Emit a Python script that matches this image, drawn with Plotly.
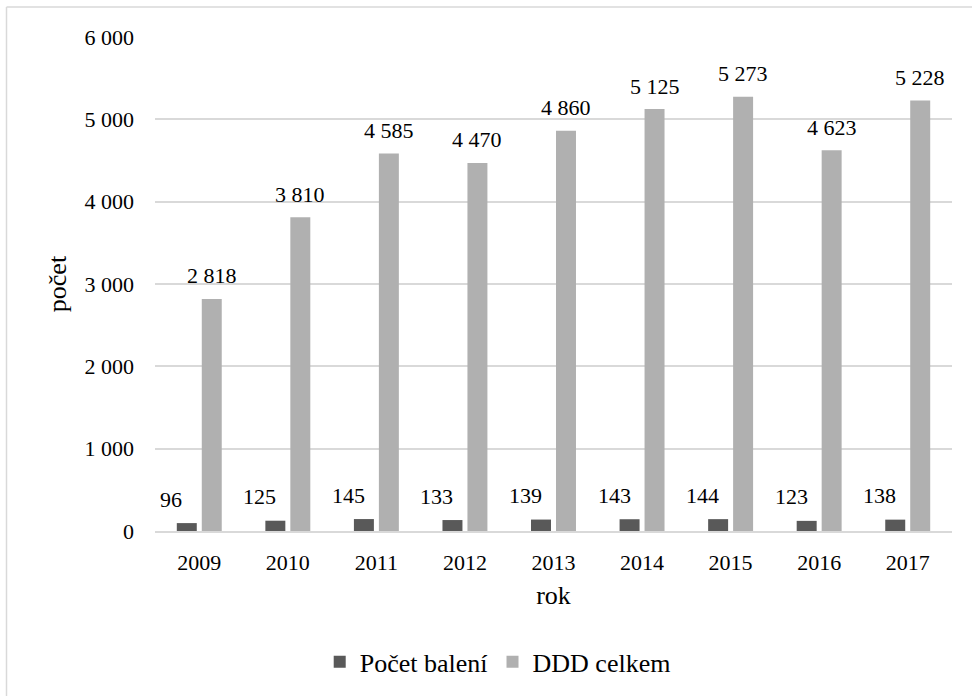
import plotly.graph_objects as go

# Roky a hodnoty obou řad
roky = ["2009", "2010", "2011", "2012", "2013", "2014", "2015", "2016", "2017"]
pocet_baleni = [96, 125, 145, 133, 139, 143, 144, 123, 138]
ddd_celkem = [2818, 3810, 4585, 4470, 4860, 5125, 5273, 4623, 5228]

y_ticks = [0, 1000, 2000, 3000, 4000, 5000, 6000]

FONT = "Times New Roman"
DARK = "#595959"
LIGHT = "#b0b0b0"
GRID = "#d9d9d9"


def cz(n):
    # tisíce oddělené mezerou
    return f"{n:,}".replace(",", " ")


W, H = 972, 696
ML, MR, MT, MB = 155, 20, 37, 164

fig = go.Figure()
fig.add_trace(go.Bar(x=roky, y=pocet_baleni, name="Počet balení",
                     marker=dict(color=DARK, line=dict(width=0))))
fig.add_trace(go.Bar(x=roky, y=ddd_celkem, name="DDD celkem",
                     marker=dict(color=LIGHT, line=dict(width=0))))

# popisky hodnot; na kategoriální ose se poloha udává pořadím kategorie
annotations = []
for i, rok in enumerate(roky):
    annotations.append(dict(x=i, y=pocet_baleni[i], text=cz(pocet_baleni[i]),
                            xref="x", yref="y", showarrow=False,
                            xshift=-28, yshift=24, yanchor="middle",
                            font=dict(family=FONT, size=22, color="#000000")))
    annotations.append(dict(x=i, y=ddd_celkem[i], text=cz(ddd_celkem[i]),
                            xref="x", yref="y", showarrow=False,
                            xshift=12.5, yshift=23, yanchor="middle",
                            font=dict(family=FONT, size=22, color="#000000")))

# rámeček kolem grafu
pw, ph = W - ML - MR, H - MT - MB
fx0 = (6.5 - ML) / pw
fy1 = (H - MB - 7) / ph
shapes = [
    dict(type="line", xref="paper", yref="paper", x0=fx0, x1=(W + 10 - ML) / pw,
         y0=fy1, y1=fy1, line=dict(color=GRID, width=1.5)),
    dict(type="line", xref="paper", yref="paper", x0=fx0, x1=fx0,
         y0=fy1, y1=-(MB + 10) / ph, line=dict(color=GRID, width=1.5)),
]

fig.update_layout(
    width=W, height=H,
    margin=dict(l=ML, r=MR, t=MT, b=MB, pad=0),
    paper_bgcolor="white", plot_bgcolor="white",
    font=dict(family=FONT, size=22, color="#000000"),
    barmode="group", bargap=0.436, bargroupgap=0.2,
    showlegend=True,
    legend=dict(orientation="h", x=0.43, xanchor="center", y=-0.215, yanchor="top",
                font=dict(family=FONT, size=26, color="#000000"),
                itemwidth=30, traceorder="normal"),
    annotations=annotations,
    shapes=shapes,
    xaxis=dict(
        type="category", range=[-0.5, len(roky) - 0.5],
        title=dict(text="rok", font=dict(family=FONT, size=26), standoff=12),
        showline=True, linecolor=GRID, linewidth=1.5,
        ticks="", showgrid=False, ticklabelstandoff=11,
        tickfont=dict(family=FONT, size=22),
    ),
    yaxis=dict(
        title=dict(text="počet", font=dict(family=FONT, size=26), standoff=10),
        range=[0, 6000], tickvals=y_ticks, ticktext=[cz(v) for v in y_ticks],
        showgrid=True, gridcolor=GRID, gridwidth=1.5,
        zeroline=False, showline=False, ticks="", ticklabelstandoff=20,
        tickfont=dict(family=FONT, size=22),
    ),
)

fig.write_html("out.html")
